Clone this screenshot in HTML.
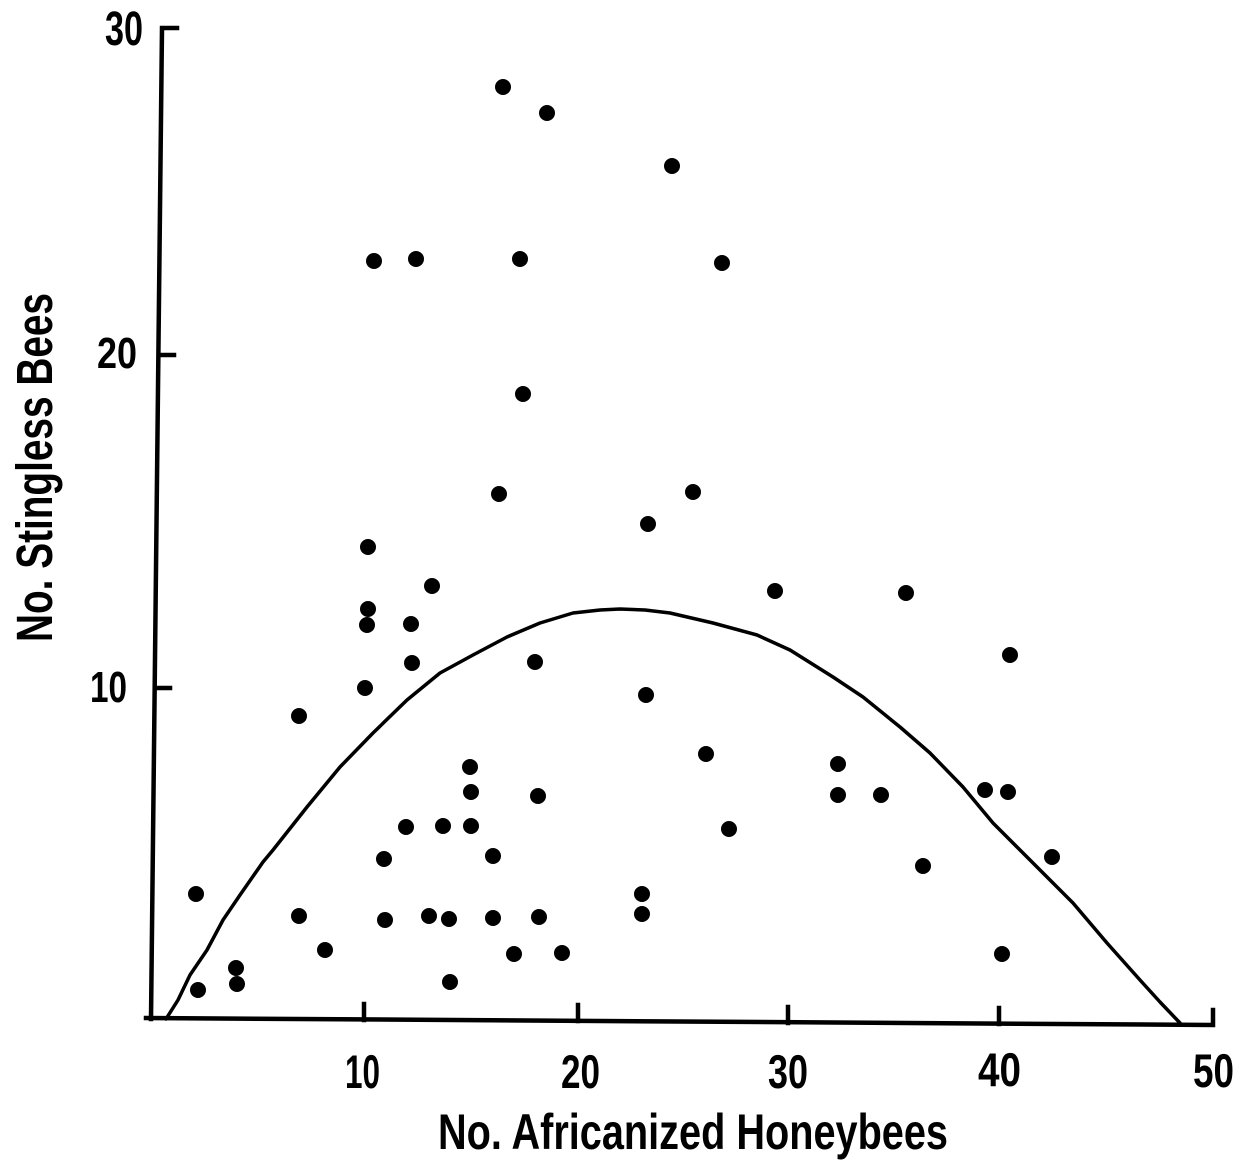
<!DOCTYPE html>
<html>
<head>
<meta charset="utf-8">
<style>
  html, body { margin: 0; padding: 0; background: #fff; }
  svg { display: block; }
  text { font-family: "Liberation Sans", "DejaVu Sans", sans-serif; fill: #000; font-weight: bold; }
</style>
</head>
<body>
<svg width="1246" height="1161" viewBox="0 0 1246 1161" xmlns="http://www.w3.org/2000/svg">
  <rect x="0" y="0" width="1246" height="1161" fill="#fff"/>

  <g stroke="#000" stroke-width="4.5" fill="none" stroke-linecap="square" stroke-linejoin="miter">
    <path d="M177,28 L162,28 L151,1019"/>
    <path d="M146,1018 L1213,1025 L1213,1010"/>
    <path d="M159,355 L174,355"/>
    <path d="M155,688 L170,688"/>
    <path d="M364,1020 L364,1004"/>
    <path d="M578,1021 L578,1005"/>
    <path d="M788,1023 L788,1007"/>
    <path d="M999,1024 L999,1008"/>
  </g>

  <polyline fill="none" stroke="#000" stroke-width="3.5" stroke-linejoin="round" stroke-linecap="round"
    points="166,1019 178,1000 190,975 207,950 223,920 240,895 263,862 273,850 307,807 340,767 373,733 407,700 440,673 473,655 507,637 540,623 573,613 600,610 620,609 645,610 670,613 713,623 757,635 790,650 833,677 863,697 900,727 930,753 963,787 993,823 1023,853 1053,883 1073,903 1107,943 1140,980 1160,1002 1180,1023"/>

  <g fill="#000">
    <circle cx="503" cy="87" r="8"/>
    <circle cx="547" cy="113" r="8"/>
    <circle cx="672" cy="166" r="8"/>
    <circle cx="374" cy="261" r="8"/>
    <circle cx="416" cy="259" r="8"/>
    <circle cx="520" cy="259" r="8"/>
    <circle cx="722" cy="263" r="8"/>
    <circle cx="523" cy="394" r="8"/>
    <circle cx="499" cy="494" r="8"/>
    <circle cx="693" cy="492" r="8"/>
    <circle cx="648" cy="524" r="8"/>
    <circle cx="368" cy="547" r="8"/>
    <circle cx="432" cy="586" r="8"/>
    <circle cx="368" cy="609" r="8"/>
    <circle cx="367" cy="625" r="8"/>
    <circle cx="411" cy="624" r="8"/>
    <circle cx="775" cy="591" r="8"/>
    <circle cx="906" cy="593" r="8"/>
    <circle cx="412" cy="663" r="8"/>
    <circle cx="535" cy="662" r="8"/>
    <circle cx="1010" cy="655" r="8"/>
    <circle cx="365" cy="688" r="8"/>
    <circle cx="646" cy="695" r="8"/>
    <circle cx="299" cy="716" r="8"/>
    <circle cx="706" cy="754" r="8"/>
    <circle cx="470" cy="767" r="8"/>
    <circle cx="838" cy="764" r="8"/>
    <circle cx="471" cy="792" r="8"/>
    <circle cx="538" cy="796" r="8"/>
    <circle cx="838" cy="795" r="8"/>
    <circle cx="881" cy="795" r="8"/>
    <circle cx="985" cy="790" r="8"/>
    <circle cx="1008" cy="792" r="8"/>
    <circle cx="406" cy="827" r="8"/>
    <circle cx="443" cy="826" r="8"/>
    <circle cx="471" cy="826" r="8"/>
    <circle cx="729" cy="829" r="8"/>
    <circle cx="384" cy="859" r="8"/>
    <circle cx="493" cy="856" r="8"/>
    <circle cx="923" cy="866" r="8"/>
    <circle cx="1052" cy="857" r="8"/>
    <circle cx="196" cy="894" r="8"/>
    <circle cx="642" cy="894" r="8"/>
    <circle cx="642" cy="914" r="8"/>
    <circle cx="299" cy="916" r="8"/>
    <circle cx="385" cy="920" r="8"/>
    <circle cx="429" cy="916" r="8"/>
    <circle cx="449" cy="919" r="8"/>
    <circle cx="493" cy="918" r="8"/>
    <circle cx="539" cy="917" r="8"/>
    <circle cx="325" cy="950" r="8"/>
    <circle cx="514" cy="954" r="8"/>
    <circle cx="562" cy="953" r="8"/>
    <circle cx="1002" cy="954" r="8"/>
    <circle cx="236" cy="968" r="8"/>
    <circle cx="237" cy="984" r="8"/>
    <circle cx="198" cy="990" r="8"/>
    <circle cx="450" cy="982" r="8"/>
  </g>

  <text x="105" y="45" font-size="48" textLength="38" lengthAdjust="spacingAndGlyphs">30</text>
  <text x="97" y="368" font-size="44" textLength="40" lengthAdjust="spacingAndGlyphs">20</text>
  <text x="90" y="702" font-size="44" textLength="37" lengthAdjust="spacingAndGlyphs">10</text>

  <text x="345" y="1088" font-size="47" textLength="35" lengthAdjust="spacingAndGlyphs">10</text>
  <text x="561" y="1088" font-size="47" textLength="39" lengthAdjust="spacingAndGlyphs">20</text>
  <text x="768" y="1088" font-size="47" textLength="40" lengthAdjust="spacingAndGlyphs">30</text>
  <text x="978" y="1086" font-size="47" textLength="43" lengthAdjust="spacingAndGlyphs">40</text>
  <text x="1193" y="1087" font-size="47" textLength="41" lengthAdjust="spacingAndGlyphs">50</text>

  <text x="438" y="1149" font-size="50" textLength="510" lengthAdjust="spacingAndGlyphs">No. Africanized Honeybees</text>
  <text transform="translate(52,642) rotate(-90)" x="0" y="0" font-size="51" textLength="349" lengthAdjust="spacingAndGlyphs">No. Stingless Bees</text>
</svg>
</body>
</html>
